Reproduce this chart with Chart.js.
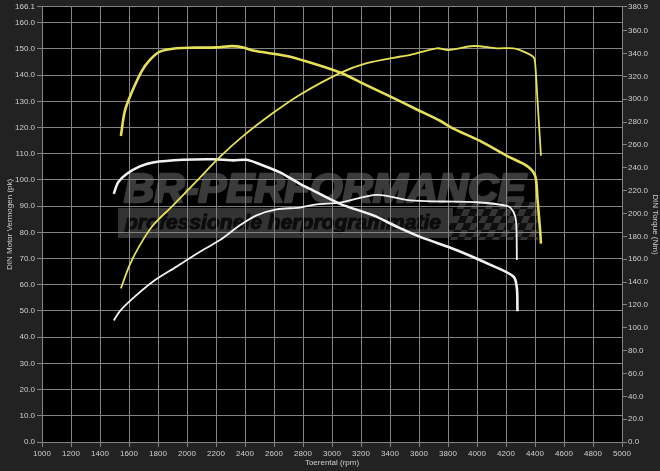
<!DOCTYPE html>
<html>
<head>
<meta charset="utf-8">
<script src="https://cdn.jsdelivr.net/npm/chart.js@4/dist/chart.umd.min.js"></script>
<style>
  html, body { margin: 0; padding: 0; background: #222222; }
  canvas { display: block; }
</style>
</head>
<body>
<canvas id="dyno" width="660" height="471"></canvas>
<script>
// getuned (geel) - vermogen in pk
const tunedPowerRpm = [1544, 1571, 1617, 1686, 1744, 1813, 1928, 2050, 2204, 2308, 2388, 2455, 2687, 2825, 3055, 3240, 3400, 3585, 3745, 3837, 4021, 4206, 4344, 4401, 4417, 4436, 4441];
const tunedPower = [116.8, 126.3, 133.2, 141.4, 145.8, 149.0, 150.3, 150.5, 150.6, 151.1, 150.6, 149.4, 147.3, 145.2, 141.0, 136.1, 131.9, 126.9, 122.6, 119.6, 114.9, 109.2, 105.4, 101.6, 92.8, 80.2, 75.7];
// getuned (geel) - koppel in Nm
const tunedTorqueRpm = [1544, 1605, 1675, 1766, 1904, 2066, 2227, 2388, 2595, 2779, 3055, 3240, 3472, 3541, 3723, 3803, 3976, 4137, 4252, 4321, 4390, 4401, 4417, 4441];
const tunedTorque = [134.4, 155.0, 172.3, 189.7, 207.1, 228.3, 249.5, 267.9, 288.1, 304.0, 322.9, 331.5, 337.4, 338.8, 344.6, 343.1, 346.6, 344.6, 344.6, 341.7, 336.8, 331.5, 299.7, 250.5];
// origineel (wit) - vermogen in pk
const stockPowerRpm = [1495, 1525, 1583, 1675, 1766, 1973, 2181, 2319, 2411, 2503, 2641, 2779, 2848, 3055, 3285, 3450, 3608, 3861, 4093, 4252, 4275, 4279];
const stockPower = [94.7, 99.1, 102.3, 105.2, 106.7, 107.7, 107.9, 107.5, 107.7, 106.0, 102.9, 98.5, 96.6, 90.9, 86.5, 82.1, 78.3, 73.2, 67.6, 63.1, 58.7, 49.9];
// origineel (wit) - koppel in Nm
const stockTorqueRpm = [1495, 1536, 1628, 1766, 1928, 2089, 2227, 2365, 2480, 2618, 2779, 2894, 3055, 3309, 3541, 3763, 3991, 4211, 4252, 4270, 4275];
const stockTorque = [106.3, 114.4, 125.9, 140.5, 153.5, 166.5, 176.7, 189.7, 198.4, 203.6, 205.2, 208.0, 209.5, 216.3, 211.4, 210.5, 209.9, 206.5, 201.3, 192.6, 159.3];

// as-labels
const rpmTicks = [1000, 1200, 1400, 1600, 1800, 2000, 2200, 2400, 2600, 2800, 3000, 3200, 3400, 3600, 3800, 4000, 4200, 4400, 4600, 4800, 5000];
const powerTicks = [0, 10, 20, 30, 40, 50, 60, 70, 80, 90, 100, 110, 120, 130, 140, 150, 160, 166.1];
const torqueTicks = [0, 20, 40, 60, 80, 100, 120, 140, 160, 180, 200, 220, 240, 260, 280, 300, 320, 340, 360, 380.9];

const YELLOW = '#e6e156';
const WHITE = '#f2f2f2';
const GRID = '#828282';
const TEXT = '#cfcfcf';

const toPoints = (xs, ys) => xs.map((x, i) => ({ x: x, y: ys[i] }));

// achtergrond + watermerk, onder het raster
const backdrop = {
    id: 'backdrop',
    beforeDraw(chart) {
        const { ctx, chartArea: a } = chart;
        ctx.save();
        ctx.fillStyle = '#222222';
        ctx.fillRect(0, 0, chart.width, chart.height);
        ctx.fillStyle = '#000000';
        ctx.fillRect(a.left, a.top, a.right - a.left, a.bottom - a.top);

        // BR-PERFORMANCE (vet, iets dikker gemaakt met een rand)
        ctx.font = 'italic bold 40px "Liberation Sans", Arial, sans-serif';
        let w = ctx.measureText('BR-PERFORMANCE').width;
        ctx.save();
        ctx.translate(124, 202);
        ctx.scale(402 / w, 1);
        ctx.fillStyle = '#3a3a3a';
        ctx.strokeStyle = '#3a3a3a';
        ctx.lineWidth = 2.5;
        ctx.lineJoin = 'round';
        ctx.strokeText('BR-PERFORMANCE', 0, 0);
        ctx.fillText('BR-PERFORMANCE', 0, 0);
        ctx.restore();

        // balk met ondertitel
        ctx.fillStyle = '#333333';
        ctx.fillRect(118, 208, 335, 30);
        ctx.font = 'italic bold 20px "Liberation Sans", Arial, sans-serif';
        w = ctx.measureText('professionele herprogrammatie').width;
        ctx.save();
        ctx.translate(125, 229);
        ctx.scale(316 / w, 1);
        ctx.fillStyle = '#0c0c0c';
        ctx.strokeStyle = '#0c0c0c';
        ctx.lineWidth = 1;
        ctx.strokeText('professionele herprogrammatie', 0, 0);
        ctx.fillText('professionele herprogrammatie', 0, 0);
        ctx.restore();

        // geblokte vlag
        ctx.save();
        ctx.beginPath();
        ctx.rect(448, 202, 90, 38);
        ctx.clip();
        const s = 7;
        for (let r = 0; r < 6; r++) {
            for (let c = 0; c < 14; c++) {
                const y = 202 + r * s;
                const x = 452 + c * s - (y - 202) * 0.45 + 8;
                ctx.fillStyle = (r + c) % 2 === 0 ? '#343434' : '#0e0e0e';
                ctx.beginPath();
                ctx.moveTo(x, y);
                ctx.lineTo(x + s, y);
                ctx.lineTo(x + s - s * 0.45, y + s);
                ctx.lineTo(x - s * 0.45, y + s);
                ctx.closePath();
                ctx.fill();
            }
        }
        ctx.restore();
        ctx.restore();
    }
};

const tickFont = { family: '"Liberation Sans", Arial, sans-serif', size: 8 };

new Chart(document.getElementById('dyno'), {
    type: 'scatter',
    data: {
        datasets: [
            { label: 'Vermogen getuned', data: toPoints(tunedPowerRpm, tunedPower), yAxisID: 'y', borderColor: YELLOW, borderWidth: 2.6 },
            { label: 'Koppel getuned', data: toPoints(tunedTorqueRpm, tunedTorque), yAxisID: 'y1', borderColor: YELLOW, borderWidth: 1.8 },
            { label: 'Vermogen origineel', data: toPoints(stockPowerRpm, stockPower), yAxisID: 'y', borderColor: WHITE, borderWidth: 2.6 },
            { label: 'Koppel origineel', data: toPoints(stockTorqueRpm, stockTorque), yAxisID: 'y1', borderColor: WHITE, borderWidth: 1.8 }
        ].map(d => Object.assign(d, { showLine: true, pointRadius: 0, tension: 0.3, fill: false }))
    },
    options: {
        responsive: false,
        animation: false,
        layout: { padding: { top: 3, left: 0, right: 0, bottom: 0 } },
        plugins: { legend: { display: false }, tooltip: { enabled: false } },
        scales: {
            x: {
                type: 'linear',
                min: 1000,
                max: 5000,
                afterBuildTicks: s => { s.ticks = rpmTicks.map(v => ({ value: v })); },
                afterFit: s => { s.height = 29; },
                grid: { color: GRID, tickLength: 5 },
                border: { color: GRID },
                ticks: { color: TEXT, font: tickFont, padding: 2, maxRotation: 0, autoSkip: false, callback: v => String(v) },
                title: { display: true, text: 'Toerental (rpm)', color: TEXT, font: tickFont, padding: { top: 0, bottom: 3 } }
            },
            y: {
                position: 'left',
                min: 0,
                max: 166.1,
                afterBuildTicks: s => { s.ticks = powerTicks.map(v => ({ value: v })); },
                afterFit: s => { s.width = 42; },
                grid: { color: GRID, tickLength: 5 },
                border: { color: GRID },
                ticks: { color: TEXT, font: tickFont, padding: 2, callback: v => v.toFixed(1) },
                title: { display: true, text: 'DIN Motor Vermogen (pk)', color: TEXT, font: tickFont, padding: { top: 5, bottom: 0 } }
            },
            y1: {
                position: 'right',
                min: 0,
                max: 380.9,
                afterBuildTicks: s => { s.ticks = torqueTicks.map(v => ({ value: v })); },
                afterFit: s => { s.width = 38; },
                grid: { color: GRID, tickLength: 5, drawOnChartArea: false },
                border: { color: GRID },
                ticks: { color: TEXT, font: tickFont, padding: 1, callback: v => v.toFixed(1) },
                title: { display: true, text: 'DIN Torque (Nm)', color: TEXT, font: tickFont, padding: { top: 0, bottom: 0 } }
            }
        }
    },
    plugins: [backdrop]
});
</script>
</body>
</html>
